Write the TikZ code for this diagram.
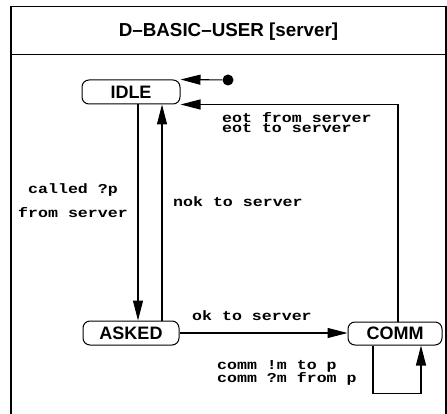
\documentclass[tikz,border=0pt]{standalone}
\usepackage{fontspec}
\setmainfont{Liberation Sans}
\newfontfamily\monof{Liberation Mono}[FakeStretch=1.22]
\usetikzlibrary{arrows.meta}
\begin{document}
\begin{tikzpicture}[x=1pt,y=-1pt,
  state/.style={draw,rounded corners=7pt,line width=1pt,inner sep=0pt,minimum height=24pt,
    font=\fontsize{18}{20}\selectfont\bfseries},
  lbl/.style={inner sep=0pt,anchor=base west,
    font={\fontsize{13.6}{10.6}\selectfont\monof\bfseries\lineskiplimit-30pt\relax}},
  conn/.style={line width=1.1pt,-{Triangle[length=20pt,width=10pt]}},
  frame/.style={line width=1.5pt}]
\useasboundingbox (0,0) rectangle (447,414);
\draw[frame] (11,414) -- (11,6.5) -- (446,6.5) -- (446,414);
\draw[frame] (11,54.5) -- (446,54.5);
\node[font=\fontsize{18.8}{20}\selectfont\bfseries] (title) at (228.5,32) {D–BASIC–USER [server]};
\node[state,minimum width=98pt] (idle) at (131,92) {IDLE};
\node[state,minimum width=96pt] (asked) at (131,333) {ASKED};
\node[state,minimum width=94pt,minimum height=23pt] (comm) at (395,333.5) {COMM};
\node[circle,fill,inner sep=0pt,minimum size=11pt] (init) at (228,80) {};
\draw[conn] (init) -- (idle.north east);
\draw[conn] ([xshift=3pt]comm.north) |- (idle.south east);
\draw[conn] ([xshift=7pt]idle.south) -- ([xshift=7pt]asked.north);
\draw[conn] ([xshift=31pt]asked.north) -- ([xshift=31pt]idle.south);
\draw[conn] (asked.east) -- (asked.east -| comm.west);
\draw[conn] ([xshift=-22pt]comm.south) -- ++(0,48) -| ([xshift=26pt]comm.south);
\node[lbl,align=left] (eotlbl) at (222,133) {eot from server\\eot to server};
\node[lbl,anchor=base,align=center,font={\fontsize{13.6}{24}\selectfont\monof\bfseries}] (calledlbl) at (73,218) {called ?p\\from server};
\node[lbl] (noklbl) at (173,206.5) {nok to server};
\node[lbl] (oklbl) at (192,320.5) {ok to server};
\node[lbl,align=left,font={\fontsize{13.6}{13}\selectfont\monof\bfseries\lineskiplimit-30pt\relax}] (commlbl) at (217,382.7) {comm !m to p\\comm ?m from p};
\end{tikzpicture}
\end{document}
